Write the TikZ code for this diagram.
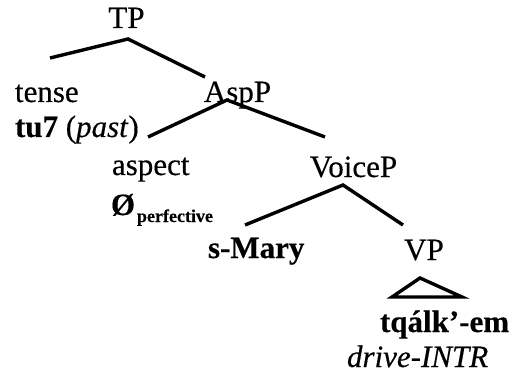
\documentclass[tikz,border=0pt]{standalone}
\usepackage{fontspec}
\setmainfont{Liberation Serif}[FakeBold=0.4]
\begin{document}
\begin{tikzpicture}[x=1pt,y=1pt,
  lbl/.style={inner sep=0pt,outer sep=0pt,font=\fontsize{31}{36}\selectfont},
  sub/.style={inner sep=0pt,outer sep=0pt,font=\fontsize{18}{20}\selectfont\bfseries},
  branch/.style={line width=3.4pt,line join=miter,line cap=butt}]
\useasboundingbox (0,0) rectangle (516,-374);
% labels
\node[lbl,anchor=base] (tp) at (126.5,-28) {TP};
\node[lbl,anchor=base west] (tense) at (15,-102) {tense};
\node[lbl,anchor=base] (asp) at (237.5,-102) {AspP};
\node[lbl,anchor=base west] (tu) at (15,-137) {\textbf{tu7} (\textit{past})};
\node[lbl,anchor=base west] (aspect) at (112,-175) {aspect};
\node[lbl,anchor=base west] (null) at (111,-215) {\textbf{Ø}};
\node[sub,anchor=base west] (perf) at (137,-222) {perfective};
\node[lbl,anchor=base] (voice) at (353.5,-177) {VoiceP};
\node[lbl,anchor=base west] (mary) at (208,-258) {\textbf{s-Mary}};
\node[lbl,anchor=base] (vp) at (424,-260) {VP};
\node[lbl,anchor=base west] (verb) at (380,-332) {\textbf{tqálk’-em}};
\node[lbl,anchor=base west] (gloss) at (347,-367) {\textit{drive-INTR}};
% branch points
\coordinate (tpTop) at (128,-39);
\coordinate (tpL) at (50,-58);
\coordinate (tpR) at (205,-77);
\coordinate (aspTop) at (227,-100);
\coordinate (aspL) at (148,-137);
\coordinate (aspR) at (325,-137);
\coordinate (voiceTop) at (343,-185);
\coordinate (voiceL) at (245,-225);
\coordinate (voiceR) at (403,-225);
\coordinate (triTop) at (420,-278);
\coordinate (triL) at (392,-297);
\coordinate (triR) at (462,-297);
% branches
\draw[branch] (tpL) -- (tpTop) -- (tpR);
\draw[branch] (aspL) -- (aspTop) -- (aspR);
\draw[branch] (voiceL) -- (voiceTop) -- (voiceR);
\draw[branch] (triTop) -- (triL) -- (triR) -- cycle;
\end{tikzpicture}
\end{document}
